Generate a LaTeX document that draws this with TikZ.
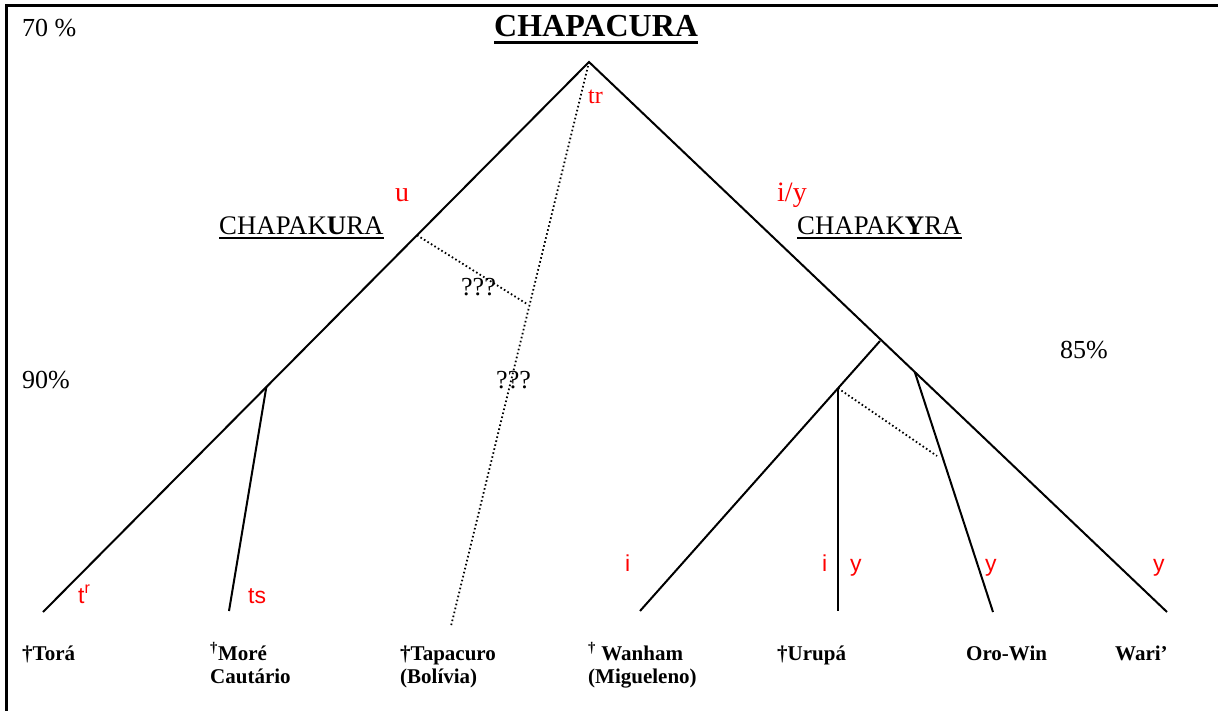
\documentclass[tikz,border=0pt]{standalone}
\usepackage{fontspec}
\setmainfont{Liberation Serif}
\newfontfamily\arialf{Liberation Sans}
\usetikzlibrary{calc}
\definecolor{sred}{RGB}{255,0,0}
\begin{document}
\begin{tikzpicture}[x=1pt,y=-1pt,
  branch/.style={line width=2pt},
  dotline/.style={line width=1.8pt, dash pattern=on 1.6pt off 2.5pt},
  txt/.style={anchor=base west, inner sep=0pt},
  lbl/.style={txt, font=\fontsize{21}{23}\selectfont\bfseries},
  pct/.style={txt, font=\fontsize{26}{30}\selectfont},
  subfam/.style={txt, font=\fontsize{26.8}{30}\selectfont},
  sound/.style={txt, text=sred, font=\fontsize{28}{32}\selectfont},
  soundsans/.style={txt, text=sred, font=\fontsize{23}{26}\selectfont\arialf},
  uline/.style={line width=1.6pt}
]
\useasboundingbox (0,0) rectangle (1218,711);
% frame
\coordinate (fbl) at (6.5,711);
\coordinate (ftl) at (6.5,5.5);
\coordinate (ftr) at (1218,5.5);
\draw[line width=3pt] (fbl) -- (ftl) -- (ftr);

% tree coordinates
\coordinate (apex) at (589,62);
\coordinate (tora) at (43,612);
\coordinate (wari) at (1167,612);
\coordinate (L1) at ($(apex)!0.591!(tora)$);
\coordinate (more) at (229,611);
\coordinate (tapa) at (451,626);
\coordinate (Ld1) at ($(apex)!0.315!(tora)$);
\coordinate (Ld2) at (527,304);
\coordinate (R1) at (880,341);
\coordinate (wanham) at (640,611);
\coordinate (U1) at ($(R1)!0.175!(wanham)$);
\coordinate (urupa) at (U1 |- 0,611);
\coordinate (R3) at ($(apex)!0.5636!(wari)$);
\coordinate (oro) at (993,612);
\coordinate (Rd2) at (937,456);

% branches
\draw[branch] (tora) -- (apex) -- (wari);
\draw[branch] (L1) -- (more);
\draw[dotline] (apex) -- (tapa);
\draw[dotline] (Ld1) -- (Ld2);
\draw[branch] (R1) -- (wanham);
\draw[branch, line width=2.4pt] (U1) -- (urupa);
\draw[branch] (R3) -- (oro);
\draw[dotline] (U1) -- (Rd2);

% top texts
\node[pct] (p70) at (22,37) {70 \%};
\node[txt, font=\fontsize{32}{36}\selectfont\bfseries] (title) at (494,37) {CHAPACURA};
\draw[line width=3pt] ($(title.base west)+(0,5.5)$) -- ($(title.base east)+(0,5.5)$);
\node[txt, text=sred, font=\fontsize{24}{28}\selectfont] (tr) at (588,104) {tr};

\node[sound] (u) at (395,202) {u};
\node[subfam] (kura) at (219,235) {CHAPAK\textbf{U}RA};
\draw[uline] ($(kura.base west)+(0,3)$) -- ($(kura.base east)+(0,3)$);
\node[sound] (iy) at (777,202) {i/y};
\node[subfam] (kyra) at (797,235) {CHAPAK\textbf{Y}RA};
\draw[uline] ($(kyra.base west)+(0,3)$) -- ($(kyra.base east)+(0,3)$);

\node[pct] (p85) at (1060,358) {85\%};
\node[pct] (p90) at (22,388) {90\%};
\node[pct] (q1) at (461,296) {???};
\node[pct] (q2) at (496,388) {???};

% red sound labels near leaves
\node[soundsans] (str) at (78,603) {t\textsuperscript{r}};
\node[soundsans] (sts) at (248,603) {ts};
\node[soundsans] (si1) at (625,571) {i};
\node[soundsans] (si2) at (822,571) {i};
\node[soundsans] (sy1) at (850,571) {y};
\node[soundsans] (sy2) at (985,571) {y};
\node[soundsans] (sy3) at (1153,571) {y};

% leaf labels
\node[lbl] (ltora) at (22,660) {†Torá};
\node[lbl] (lmore) at (210,660) {\textsuperscript{†}Moré};
\node[lbl] (lmore2) at (210,683) {Cautário};
\node[lbl] (ltapa) at (400,660) {†Tapacuro};
\node[lbl] (ltapa2) at (400,683) {(Bolívia)};
\node[lbl] (lwan) at (588,660) {\textsuperscript{†} Wanham};
\node[lbl] (lwan2) at (588,683) {(Migueleno)};
\node[lbl] (luru) at (777,660) {†Urupá};
\node[lbl] (loro) at (966,660) {Oro-Win};
\node[lbl] (lwari) at (1115,660) {Wari’};
\end{tikzpicture}
\end{document}
